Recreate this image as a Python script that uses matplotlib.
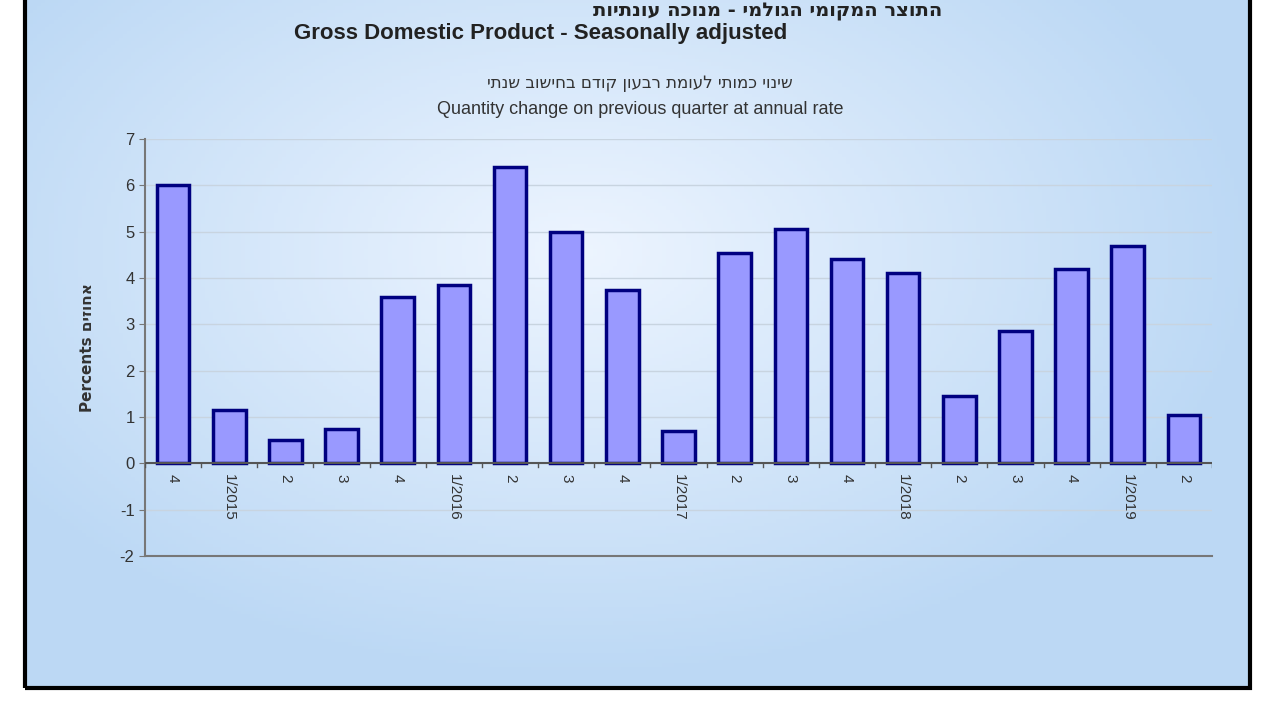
import numpy as np
import matplotlib.pyplot as plt
from matplotlib.patches import Rectangle

# ── Données ──────────────────────────────────────────────────────────────────
quarters = ["4", "1/2015", "2", "3", "4", "1/2016", "2", "3", "4", "1/2017",
            "2", "3", "4", "1/2018", "2", "3", "4", "1/2019", "2"]
growth = [6.0, 1.15, 0.5, 0.75, 3.6, 3.85, 6.4, 5.0, 3.75, 0.7,
          4.55, 5.05, 4.4, 4.1, 1.45, 2.85, 4.2, 4.7, 1.05]
yticks = list(range(-2, 8))

title_he = "התוצר המקומי הגולמי - מנוכה עונתיות"
title_en = "Gross Domestic Product - Seasonally adjusted"
sub_he = "שינוי כמותי לעומת רבעון קודם בחישוב שנתי"
sub_en = "Quantity change on previous quarter at annual rate"


def rtl(s):
    return s[::-1]


fig = plt.figure(figsize=(12.8, 7.2), dpi=100)
fig.patch.set_facecolor("white")

# fond dégradé dans le cadre
bg = fig.add_axes([25 / 1280, 1 - 688 / 720, 1225 / 1280, 688 / 720 + 0.02])
yy, xx = np.mgrid[0:1:200j, 0:1:300j]
d = np.sqrt(((xx - 0.45) / 0.55) ** 2 + ((yy - 0.62) / 0.6) ** 2)
d = np.clip(d, 0, 1)
c0 = np.array([0.93, 0.96, 1.0])
c1 = np.array([0.74, 0.85, 0.96])
img = c0[None, None, :] * (1 - d[..., None]) + c1[None, None, :] * d[..., None]
bg.imshow(img, aspect="auto", extent=[0, 1, 0, 1], origin="lower")
bg.set_xlim(0, 1)
bg.set_ylim(0, 1)
bg.axis("off")
fig.add_artist(Rectangle((25 / 1280, 1 - 688 / 720), 1225 / 1280, 0.99,
                         transform=fig.transFigure, fill=False,
                         edgecolor="black", linewidth=3))

ax = fig.add_axes([145 / 1280, 1 - 556 / 720, 1067 / 1280, 417 / 720])
ax.patch.set_alpha(0)
x = np.arange(len(growth))
ax.bar(x, growth, width=0.58, color="#9999FF", edgecolor="#000080", linewidth=2.5, zorder=3)
ax.set_xlim(-0.5, len(growth) - 0.5)
ax.set_ylim(-2, 7)
ax.set_yticks(yticks)
ax.set_yticklabels([str(t) for t in yticks], fontsize=12, color="#333333", family="Liberation Sans")
ax.yaxis.grid(True, color="#c8d4e0", linewidth=1, zorder=0)
ax.axhline(0, color="#555555", linewidth=1.5, zorder=4)
# libellés des trimestres sous la ligne zéro
ax.set_xticks([])
for xi in np.arange(len(growth) + 1) - 0.5:
    ax.plot([xi, xi], [0, -0.08], color="#555555", linewidth=1, zorder=4)
for xi, q in zip(x, quarters):
    ax.annotate(q, xy=(xi, 0), xytext=(0, -8), textcoords="offset points",
                rotation=-90, ha="center", va="top", fontsize=11,
                color="#333333", family="Liberation Sans")
ax.tick_params(axis="y", length=4, color="#777777")
for s in ["top", "right"]:
    ax.spines[s].set_visible(False)
for s in ["left", "bottom"]:
    ax.spines[s].set_color("#777777")
    ax.spines[s].set_linewidth(1.5)
ax.set_ylabel("Percents " + rtl("אחוזים"), fontsize=11, fontweight="bold",
              color="#333333", labelpad=18)

fig.text(0.6, 0.997, rtl(title_he), ha="center", va="top", fontsize=14,
         fontweight="bold", color="#222222")
fig.text(0.422, 0.953, title_en, ha="center", va="center", fontsize=16,
         fontweight="bold", color="#222222", family="Liberation Sans")
fig.text(0.5, 0.885, rtl(sub_he), ha="center", va="center", fontsize=12, color="#333333")
fig.text(0.5, 0.848, sub_en, ha="center", va="center", fontsize=13,
         color="#333333", family="Liberation Sans")

fig.savefig("out.png", dpi=100)
